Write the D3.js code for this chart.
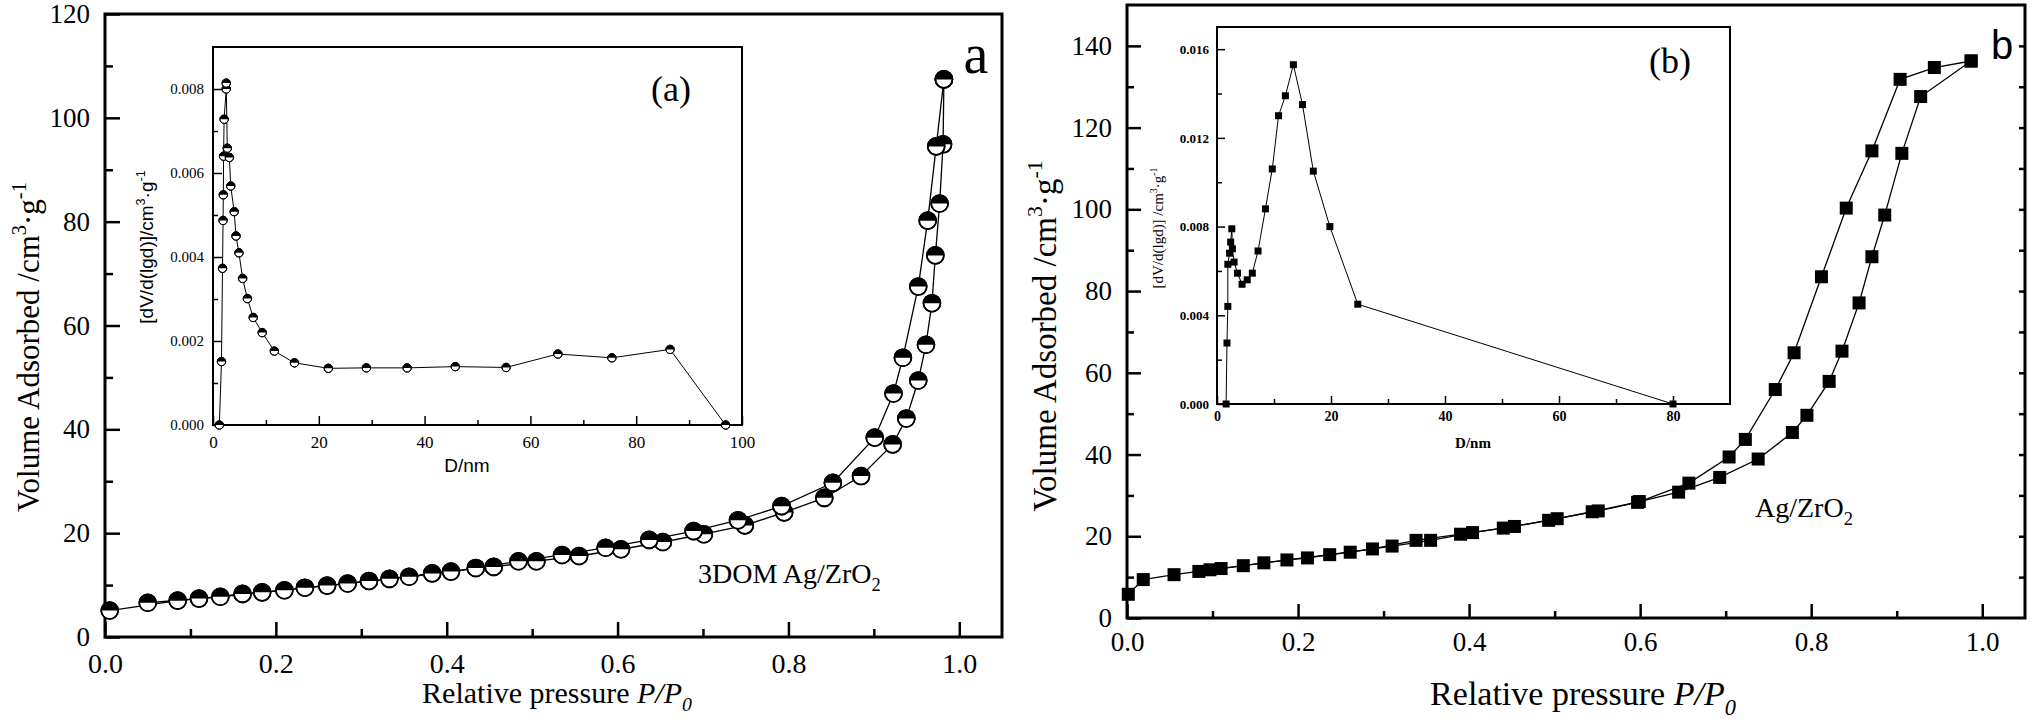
<!DOCTYPE html>
<html>
<head>
<meta charset="utf-8">
<script src="https://cdn.jsdelivr.net/npm/d3@7"></script>
<style>
body { margin: 0; background: #fff; }
svg { display: block; background: #fff; }
.axis path.domain { display: none; }
</style>
</head>
<body>
<svg id="chart" width="2032" height="722"></svg>
<script>
// ---- data ----
// panel a, 3DOM Ag/ZrO2 isotherm (two branches)
var aAdsP = [0.0055, 0.085, 0.135, 0.184, 0.234, 0.284, 0.333, 0.383, 0.455, 0.505, 0.555, 0.604, 0.653, 0.701, 0.749, 0.795, 0.842, 0.885, 0.922, 0.938, 0.952, 0.961, 0.968, 0.972, 0.977, 0.981, 0.982];
var aAdsV = [5.1, 7.0, 7.75, 8.6, 9.5, 10.3, 11.2, 12.25, 13.5, 14.6, 15.6, 16.9, 18.3, 19.8, 21.5, 24.0, 26.8, 31.0, 37.1, 42.1, 49.4, 56.3, 64.3, 73.5, 83.5, 94.9, 107.4];
var aDesP = [0.050, 0.110, 0.161, 0.210, 0.260, 0.309, 0.356, 0.405, 0.434, 0.484, 0.535, 0.586, 0.637, 0.689, 0.741, 0.792, 0.852, 0.901, 0.923, 0.934, 0.952, 0.963, 0.973, 0.982];
var aDesV = [6.6, 7.4, 8.3, 9.0, 9.9, 10.8, 11.6, 12.6, 13.3, 14.6, 15.8, 17.2, 18.7, 20.4, 22.5, 25.2, 29.7, 38.4, 46.9, 53.8, 67.5, 80.2, 94.5, 107.4];
// panel a inset, pore size distribution
var aPoreD = [1.2, 1.6, 1.8, 1.9, 1.95, 2.0, 2.1, 2.5, 2.5, 2.7, 3.1, 3.35, 4.0, 4.35, 4.9, 5.6, 6.5, 7.6, 9.3, 11.6, 15.4, 21.8, 29.0, 36.7, 45.8, 55.4, 65.2, 75.4, 86.4, 96.9];
var aPoreV = [0, 0.00151, 0.00373, 0.00487, 0.00548, 0.0064, 0.00728, 0.0080, 0.00814, 0.00659, 0.00637, 0.00569, 0.00508, 0.0045, 0.0041, 0.00349, 0.00301, 0.00256, 0.0022, 0.00176, 0.00148, 0.00135, 0.00136, 0.00136, 0.00139, 0.00137, 0.00169, 0.0016, 0.0018, 0];

// panel b, Ag/ZrO2 isotherm
var bAdsP = [0.0015, 0.019, 0.055, 0.097, 0.136, 0.187, 0.237, 0.287, 0.338, 0.390, 0.440, 0.493, 0.544, 0.599, 0.645, 0.693, 0.738, 0.778, 0.795, 0.821, 0.836, 0.856, 0.871, 0.886, 0.906, 0.928, 0.987];
var bAdsV = [5.8, 9.4, 10.6, 11.8, 12.8, 14.2, 15.5, 16.9, 19.0, 20.5, 22.0, 23.9, 26.0, 28.5, 30.8, 34.4, 38.9, 45.4, 49.6, 57.9, 65.3, 77.1, 88.4, 98.6, 113.7, 127.6, 136.3];
var bDesP = [0.084, 0.110, 0.160, 0.211, 0.261, 0.310, 0.355, 0.404, 0.453, 0.503, 0.551, 0.597, 0.657, 0.704, 0.723, 0.758, 0.780, 0.812, 0.841, 0.871, 0.904, 0.944, 0.987];
var bDesV = [11.4, 12.1, 13.5, 14.7, 16.1, 17.6, 19.0, 20.9, 22.4, 24.3, 26.2, 28.3, 33.0, 39.4, 43.7, 55.9, 64.9, 83.5, 100.3, 114.3, 131.8, 134.7, 136.3];
// panel b inset
var bPoreD = [1.6, 1.75, 1.9, 1.9, 2.2, 2.4, 2.6, 2.7, 3.0, 3.6, 4.4, 5.3, 6.2, 7.2, 8.5, 9.7, 10.8, 12.0, 13.4, 15.0, 16.9, 19.8, 24.7, 80];
var bPoreV = [0, 0.00275, 0.0044, 0.0063, 0.0068, 0.0073, 0.0079, 0.0070, 0.0064, 0.0059, 0.0054, 0.0056, 0.0059, 0.0069, 0.0088, 0.0106, 0.0130, 0.0139, 0.0153, 0.0135, 0.0105, 0.0080, 0.0045, 0];

// tick values
var pMajor = [0, 0.2, 0.4, 0.6, 0.8, 1.0];
var pMinor = [0.1, 0.3, 0.5, 0.7, 0.9];
var aVMajor = [0, 20, 40, 60, 80, 100, 120];
var aVMinor = [10, 30, 50, 70, 90, 110];
var bVMajor = [0, 20, 40, 60, 80, 100, 120, 140];
var bVMinor = [10, 30, 50, 70, 90, 110, 130];
var bVRight = [10, 20, 30, 40, 50, 60, 70, 80, 90, 100, 110, 120, 130, 140];
var aDMajor = [0, 20, 40, 60, 80, 100];
var aDMinor = [10, 30, 50, 70, 90];
var aPMajor = [0, 0.002, 0.004, 0.006, 0.008];
var aPMinor = [0.001, 0.003, 0.005, 0.007];
var bDMajor = [0, 20, 40, 60, 80];
var bDMinor = [10, 30, 50, 70];
var bPMajor = [0, 0.004, 0.008, 0.012, 0.016];
var bPMinor = [0.002, 0.006, 0.010, 0.014];

var SERIF = '"Liberation Serif","Times New Roman",serif';
var SANS = '"Liberation Sans",Arial,sans-serif';

var svg = d3.select("#chart");
svg.append("rect").attr("width", 2032).attr("height", 722).attr("fill", "#fff");

function zip(a, b) { return a.map(function (v, i) { return [v, b[i]]; }); }

// draw ticks (inward), labels and frame for one set of axes
function axesBox(g, x, y, o) {
    var x0 = x.range()[0], x1 = x.range()[1], y0 = y.range()[0], y1 = y.range()[1];
    g.append("rect").attr("x", x0).attr("y", y1).attr("width", x1 - x0).attr("height", y0 - y1)
        .attr("fill", "#fff");

    function styleAxis(sel, font, size) {
        sel.attr("font-family", null).attr("font-size", null);
        sel.selectAll("line").attr("stroke", "#000").attr("stroke-width", o.tickW);
        sel.selectAll("text").attr("fill", "#000")
            .style("font-family", font).style("font-size", size + "px")
            .style("font-weight", o.labelWeight || "normal");
    }
    styleAxis(g.append("g").attr("class", "axis").attr("transform", "translate(0," + y0 + ")")
        .call(d3.axisBottom(x).tickValues(o.xMinor).tickSize(-o.minorLen).tickFormat("")));
    styleAxis(g.append("g").attr("class", "axis").attr("transform", "translate(0," + y0 + ")")
        .call(d3.axisBottom(x).tickValues(o.xMajor).tickSize(-o.majorLen).tickPadding(o.xPad).tickFormat(o.xFmt)),
        o.font, o.xFont);
    styleAxis(g.append("g").attr("class", "axis").attr("transform", "translate(" + x0 + ",0)")
        .call(d3.axisLeft(y).tickValues(o.yMinor).tickSize(-o.minorLen).tickFormat("")));
    styleAxis(g.append("g").attr("class", "axis").attr("transform", "translate(" + x0 + ",0)")
        .call(d3.axisLeft(y).tickValues(o.yMajor).tickSize(-o.majorLen).tickPadding(o.yPad).tickFormat(o.yFmt)),
        o.font, o.yFont);
    if (o.rightTicks) {
        styleAxis(g.append("g").attr("class", "axis").attr("transform", "translate(" + x1 + ",0)")
            .call(d3.axisLeft(y).tickValues(o.rightTicks).tickSize(o.rightLen).tickFormat("")));
    }
    g.append("rect").attr("x", x0).attr("y", y1).attr("width", x1 - x0).attr("height", y0 - y1)
        .attr("fill", "none").attr("stroke", "#000").attr("stroke-width", o.frameW);
}

function rich(t, parts, size) {
    var off = 0;
    parts.forEach(function (p) {
        var target = p.sup ? -0.42 * size : (p.sub ? 0.28 * size : 0);
        var s = t.append("tspan").text(p.t).attr("dy", target - off);
        off = target;
        if (p.sup || p.sub) s.style("font-size", (0.66 * size) + "px");
        if (p.it) s.style("font-style", "italic");
    });
}

function label(g, txt, x, y, size, font, anchor, rot) {
    var t = g.append("text").attr("fill", "#000")
        .style("font-family", font).style("font-size", size + "px")
        .attr("text-anchor", anchor || "start");
    if (rot) t.attr("transform", "translate(" + x + "," + y + ") rotate(" + rot + ")");
    else t.attr("x", x).attr("y", y);
    if (typeof txt === "string") t.text(txt); else rich(t, txt, size);
    return t;
}

function halfCircles(g, pts, x, y, r, sw) {
    var m = g.append("g").selectAll("g").data(pts).enter().append("g")
        .attr("transform", function (d) { return "translate(" + x(d[0]) + "," + y(d[1]) + ")"; });
    m.append("circle").attr("r", r).attr("fill", "#fff").attr("stroke", "#000").attr("stroke-width", sw);
    m.append("path").attr("d", "M" + (-r) + ",0A" + r + "," + r + " 0 0 1 " + r + ",0Z").attr("fill", "#000");
    m.append("circle").attr("r", r).attr("fill", "none").attr("stroke", "#000").attr("stroke-width", sw);
}

function squares(g, pts, x, y, s) {
    g.append("g").selectAll("rect").data(pts).enter().append("rect")
        .attr("x", function (d) { return x(d[0]) - s / 2; })
        .attr("y", function (d) { return y(d[1]) - s / 2; })
        .attr("width", s).attr("height", s).attr("fill", "#000");
}

function curve(g, pts, x, y, w) {
    g.append("path").datum(pts).attr("fill", "none").attr("stroke", "#000").attr("stroke-width", w)
        .attr("d", d3.line().x(function (d) { return x(d[0]); }).y(function (d) { return y(d[1]); }));
}

var volTitle = [{ t: "Volume Adsorbed /cm" }, { t: "3", sup: 1 }, { t: "\u00B7g" }, { t: "-1", sup: 1 }];
var presTitle = [{ t: "Relative pressure " }, { t: "P/P", it: 1 }, { t: "0", sub: 1, it: 1 }];

// ================= panel a =================
var ga = svg.append("g");
var xa = d3.scaleLinear().domain([0, 1.05]).range([105, 1002]);
var ya = d3.scaleLinear().domain([0, 120]).range([637, 14]);
axesBox(ga, xa, ya, {
    xMajor: pMajor, xMinor: pMinor, yMajor: aVMajor, yMinor: aVMinor,
    majorLen: 15, minorLen: 8, tickW: 2.5, frameW: 3,
    xFmt: d3.format(".1f"), yFmt: d3.format("d"), font: SERIF, xFont: 28, yFont: 27, xPad: 16, yPad: 15
});
curve(ga, zip(aAdsP, aAdsV), xa, ya, 1.3);
curve(ga, zip(aDesP, aDesV), xa, ya, 1.3);
halfCircles(ga, zip(aAdsP, aAdsV), xa, ya, 8.5, 1.6);
halfCircles(ga, zip(aDesP, aDesV), xa, ya, 8.5, 1.6);
label(ga, volTitle, 39, 347, 31, SERIF, "middle", -90);
label(ga, presTitle, 557, 703, 30, SERIF, "middle");
label(ga, [{ t: "3DOM Ag/ZrO" }, { t: "2", sub: 1 }], 698, 583, 28, SERIF, "start");
label(ga, "a", 976, 73, 56, SERIF, "middle");

// inset a
var xai = d3.scaleLinear().domain([0, 100]).range([213, 742]);
var yai = d3.scaleLinear().domain([0, 0.009]).range([425, 47]);
axesBox(ga, xai, yai, {
    xMajor: aDMajor, xMinor: aDMinor, yMajor: aPMajor, yMinor: aPMinor,
    majorLen: 9, minorLen: 5, tickW: 1.5, frameW: 2,
    xFmt: d3.format("d"), yFmt: d3.format(".3f"), font: SERIF, xFont: 17, yFont: 15, xPad: 11, yPad: 9
});
curve(ga, zip(aPoreD, aPoreV), xai, yai, 1);
halfCircles(ga, zip(aPoreD, aPoreV), xai, yai, 4.2, 1);
label(ga, [{ t: "[dV/d(lgd)]/cm" }, { t: "3", sup: 1 }, { t: "\u00B7g" }, { t: "-1", sup: 1 }], 153, 247, 19, SANS, "middle", -90);
label(ga, "D/nm", 467, 472, 19, SANS, "middle");
label(ga, "(a)", 671, 101, 36, SERIF, "middle");

// ================= panel b =================
var gb = svg.append("g");
var xb = d3.scaleLinear().domain([0, 1.05]).range([1127, 2025]);
var yb = d3.scaleLinear().domain([0, 150]).range([618, 5]);
axesBox(gb, xb, yb, {
    xMajor: pMajor, xMinor: pMinor, yMajor: bVMajor, yMinor: bVMinor,
    majorLen: 14, minorLen: 7, tickW: 2.5, frameW: 3,
    xFmt: d3.format(".1f"), yFmt: d3.format("d"), font: SERIF, xFont: 27, yFont: 27, xPad: 14, yPad: 15,
    rightTicks: bVRight, rightLen: 6
});
curve(gb, zip(bAdsP, bAdsV), xb, yb, 1.3);
curve(gb, zip(bDesP, bDesV), xb, yb, 1.3);
squares(gb, zip(bAdsP, bAdsV), xb, yb, 13);
squares(gb, zip(bDesP, bDesV), xb, yb, 13);
label(gb, volTitle, 1056, 336, 33, SERIF, "middle", -90);
label(gb, presTitle, 1583, 705, 34, SERIF, "middle");
label(gb, [{ t: "Ag/ZrO" }, { t: "2", sub: 1 }], 1755, 517, 28, SERIF, "start");
label(gb, "b", 2002, 59, 40, SANS, "middle");

// inset b
var xbi = d3.scaleLinear().domain([0, 90]).range([1217, 1730]);
var ybi = d3.scaleLinear().domain([0, 0.017]).range([404, 27]);
axesBox(gb, xbi, ybi, {
    xMajor: bDMajor, xMinor: bDMinor, yMajor: bPMajor, yMinor: bPMinor,
    majorLen: 8, minorLen: 5, tickW: 1.5, frameW: 2,
    xFmt: d3.format("d"), yFmt: d3.format(".3f"), font: SERIF, xFont: 14, yFont: 13, xPad: 7, yPad: 8,
    labelWeight: "bold"
});
curve(gb, zip(bPoreD, bPoreV), xbi, ybi, 1);
squares(gb, zip(bPoreD, bPoreV), xbi, ybi, 7);
label(gb, [{ t: "[dV/d(lgd)] /cm" }, { t: "3", sup: 1 }, { t: "\u00B7g" }, { t: "-1", sup: 1 }], 1163, 228, 15, SERIF, "middle", -90);
label(gb, "D/nm", 1473, 448, 15, SERIF, "middle").style("font-weight", "bold");
label(gb, "(b)", 1670, 73, 36, SERIF, "middle");
</script>
</body>
</html>
